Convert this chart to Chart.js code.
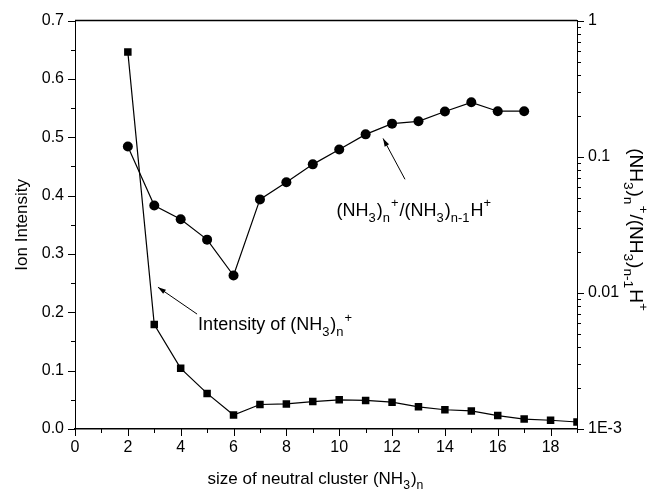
<!DOCTYPE html>
<html>
<head>
<meta charset="utf-8">
<script src="https://cdn.jsdelivr.net/npm/chart.js@4.4.1/dist/chart.umd.min.js"></script>
<style>
  html, body { margin: 0; padding: 0; background: #fff; }
  #wrap { width: 651px; height: 494px; position: relative; }
</style>
</head>
<body>
<div id="wrap"><canvas id="chart" width="651" height="494"></canvas></div>
<script>
// cluster size n for the ion intensity series
const sizeN = [2, 3, 4, 5, 6, 7, 8, 9, 10, 11, 12, 13, 14, 15, 16, 17, 18, 19];
const intensity = [0.646, 0.179, 0.104, 0.061, 0.024, 0.042, 0.043, 0.047, 0.050, 0.049,
                   0.046, 0.038, 0.033, 0.031, 0.023, 0.017, 0.015, 0.012];
// cluster size n for the ratio series (right, log axis)
const ratioN = [2, 3, 4, 5, 6, 7, 8, 9, 10, 11, 12, 13, 14, 15, 16, 17];
const ratio = [0.119, 0.0438, 0.0347, 0.0246, 0.0134, 0.0486, 0.0649, 0.0879, 0.113, 0.146,
               0.175, 0.182, 0.215, 0.251, 0.216, 0.216];
const leftTicks = [0, 0.1, 0.2, 0.3, 0.4, 0.5, 0.6, 0.7];
const rightTicks = [0.001, 0.01, 0.1, 1];
const rightLabels = ['1E-3', '0.01', '0.1', '1'];

const FONT = '"Liberation Sans", Arial, sans-serif';

// text with sub (1) and superscripts (2)
function richWidth(ctx, parts, size) {
  let w = 0;
  parts.forEach(function (p) {
    const s = p[1] ? size * 0.72 : size;
    ctx.font = s + 'px ' + FONT;
    w += ctx.measureText(p[0]).width + (p[1] ? 1 : 0);
  });
  return w;
}

function drawRich(ctx, parts, x, y, size) {
  let cx = x;
  ctx.textAlign = 'left';
  ctx.textBaseline = 'alphabetic';
  parts.forEach(function (p) {
    const s = p[1] ? size * 0.72 : size;
    ctx.font = s + 'px ' + FONT;
    let dy = 0;
    if (p[1] === 1) dy = size * 0.32;
    if (p[1] === 2) dy = -size * 0.48;
    ctx.fillText(p[0], cx, y + dy);
    cx += ctx.measureText(p[0]).width + (p[1] ? 1 : 0);
  });
}

function arrow(ctx, x1, y1, x2, y2) {
  const a = Math.atan2(y2 - y1, x2 - x1);
  ctx.beginPath();
  ctx.moveTo(x1, y1);
  ctx.lineTo(x2, y2);
  ctx.stroke();
  ctx.beginPath();
  ctx.moveTo(x2, y2);
  ctx.lineTo(x2 - 8 * Math.cos(a) + 2.5 * Math.sin(a), y2 - 8 * Math.sin(a) - 2.5 * Math.cos(a));
  ctx.lineTo(x2 - 8 * Math.cos(a) - 2.5 * Math.sin(a), y2 - 8 * Math.sin(a) + 2.5 * Math.cos(a));
  ctx.closePath();
  ctx.fill();
}

const decorPlugin = {
  id: 'decor',
  afterDraw: function (chart) {
    const ctx = chart.ctx;
    const xS = chart.scales.x;
    const yL = chart.scales.y;
    const yR = chart.scales.y2;
    const area = chart.chartArea;
    ctx.save();
    ctx.strokeStyle = '#000';
    ctx.fillStyle = '#000';
    ctx.lineWidth = 1;

    // top frame line
    ctx.beginPath();
    ctx.moveTo(area.left, area.top);
    ctx.lineTo(area.right, area.top);
    ctx.lineWidth = 1.5;
    ctx.stroke();
    ctx.lineWidth = 1;

    // bottom ticks
    for (let v = 0; v <= 19; v++) {
      const px = Math.round(xS.getPixelForValue(v)) + 0.5;
      const len = v % 2 === 0 ? 7 : 4;
      ctx.beginPath();
      ctx.moveTo(px, area.bottom);
      ctx.lineTo(px, area.bottom + len);
      ctx.stroke();
    }
    // left ticks
    for (let i = 0; i <= 14; i++) {
      const py = Math.round(yL.getPixelForValue(i * 0.05)) + 0.5;
      const len = i % 2 === 0 ? 7 : 4;
      ctx.beginPath();
      ctx.moveTo(area.left - len, py);
      ctx.lineTo(area.left, py);
      ctx.stroke();
    }
    // right log ticks
    for (let d = -3; d <= 0; d++) {
      for (let m = 1; m <= 9; m++) {
        if (d === 0 && m > 1) break;
        const py = Math.round(yR.getPixelForValue(m * Math.pow(10, d))) + 0.5;
        const len = m === 1 ? 7 : 4;
        ctx.beginPath();
        ctx.moveTo(area.right, py);
        ctx.lineTo(area.right + len, py);
        ctx.stroke();
      }
    }

    // axis titles
    ctx.save();
    ctx.translate(27, (area.top + area.bottom) / 2);
    ctx.rotate(-Math.PI / 2);
    ctx.font = '17px ' + FONT;
    ctx.textAlign = 'center';
    ctx.textBaseline = 'alphabetic';
    ctx.fillText('Ion Intensity', 0, 0);
    ctx.restore();

    const xTitle = [['size of neutral cluster (NH', 0], ['3', 1], [')', 0], ['n', 1]];
    const xw = richWidth(ctx, xTitle, 17);
    drawRich(ctx, xTitle, 316 - xw / 2, 484, 17);

    const rTitle = [['(NH', 0], ['3', 1], [')', 0], ['n', 1], ['+', 2], ['/(NH', 0], ['3', 1], [')', 0],
                    ['n-1', 1], ['H', 0], ['+', 2]];
    const rw = richWidth(ctx, rTitle, 19);
    ctx.save();
    ctx.translate(630, 230);
    ctx.rotate(Math.PI / 2);
    drawRich(ctx, rTitle, -rw / 2, 0, 19);
    ctx.restore();

    // annotations, placed in data space
    arrow(ctx, xS.getPixelForValue(4.62), yL.getPixelForValue(0.197),
               xS.getPixelForValue(3.14), yL.getPixelForValue(0.243));
    drawRich(ctx, [['Intensity of (NH', 0], ['3', 1], [')', 0], ['n', 1], ['+', 2]],
             xS.getPixelForValue(4.66), yL.getPixelForValue(0.169), 18);

    arrow(ctx, xS.getPixelForValue(12.49), yL.getPixelForValue(0.428),
               xS.getPixelForValue(11.66), yL.getPixelForValue(0.498));
    drawRich(ctx, [['(NH', 0], ['3', 1], [')', 0], ['n', 1], ['+', 2], ['/(NH', 0], ['3', 1], [')', 0],
                   ['n-1', 1], ['H', 0], ['+', 2]],
             xS.getPixelForValue(9.9), yL.getPixelForValue(0.365), 18);
    ctx.restore();
  }
};

const ctxChart = document.getElementById('chart').getContext('2d');

const chart = new Chart(ctxChart, {
  type: 'line',
  data: {
    datasets: [
      {
        label: 'Intensity of (NH3)n+',
        data: sizeN.map(function (n, i) { return { x: n, y: intensity[i] }; }),
        yAxisID: 'y',
        borderColor: '#000',
        backgroundColor: '#000',
        borderWidth: 1.2,
        pointStyle: 'rect',
        pointRadius: 5.3,
        pointBorderWidth: 0,
        tension: 0
      },
      {
        label: '(NH3)n+/(NH3)n-1H+',
        data: ratioN.map(function (n, i) { return { x: n, y: ratio[i] }; }),
        yAxisID: 'y2',
        borderColor: '#000',
        backgroundColor: '#000',
        borderWidth: 1.2,
        pointStyle: 'circle',
        pointRadius: 5,
        pointBorderWidth: 0,
        tension: 0
      }
    ]
  },
  options: {
    responsive: false,
    animation: false,
    layout: { padding: { top: 20, left: 0, right: 0, bottom: 0 } },
    plugins: {
      legend: { display: false },
      tooltip: { enabled: false }
    },
    scales: {
      x: {
        type: 'linear',
        min: 0,
        max: 19,
        grid: { display: false, drawTicks: false },
        border: { display: true, color: '#000', width: 1.5 },
        ticks: {
          stepSize: 1,
          autoSkip: false,
          maxRotation: 0,
          padding: 9,
          color: '#000',
          font: { family: FONT, size: 16 },
          callback: function (v) { return v % 2 === 0 ? String(v) : ''; }
        },
        afterFit: function (s) { s.height = 65; }
      },
      y: {
        type: 'linear',
        position: 'left',
        min: 0,
        max: 0.7,
        grid: { display: false, drawTicks: false },
        border: { display: true, color: '#000', width: 1 },
        afterBuildTicks: function (s) { s.ticks = leftTicks.map(function (v) { return { value: v }; }); },
        ticks: {
          padding: 11,
          color: '#000',
          font: { family: FONT, size: 16 },
          callback: function (v) { return v.toFixed(1); }
        },
        afterFit: function (s) { s.width = 75; }
      },
      y2: {
        type: 'logarithmic',
        position: 'right',
        min: 0.001,
        max: 1,
        grid: { display: false, drawTicks: false },
        border: { display: true, color: '#000', width: 1 },
        afterBuildTicks: function (s) { s.ticks = rightTicks.map(function (v) { return { value: v }; }); },
        ticks: {
          padding: 11,
          color: '#000',
          font: { family: FONT, size: 16 },
          callback: function (v) { return rightLabels[rightTicks.indexOf(v)]; }
        },
        afterFit: function (s) { s.width = 74; }
      }
    }
  },
  plugins: [decorPlugin]
});
</script>
</body>
</html>
